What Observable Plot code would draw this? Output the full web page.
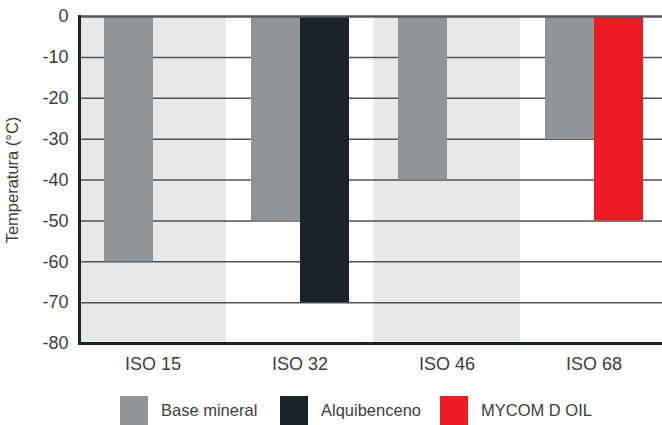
<!DOCTYPE html>
<html>
<head>
<meta charset="utf-8">
<script src="https://cdn.jsdelivr.net/npm/d3@7"></script>
<script src="https://cdn.jsdelivr.net/npm/@observablehq/plot@0.6"></script>
<style>
  html, body { margin: 0; padding: 0; background: #fff; }
  body { width: 662px; height: 425px; overflow: hidden; font-family: "Liberation Sans", Arial, sans-serif; }
  #chart { width: 662px; overflow: hidden; height: 390px; }
  #legend { display: flex; padding-left: 120px; margin-top: 6px; }
  .item { display: flex; align-items: center; width: 160px; font-size: 16.5px; color: #3d3d3d; }
  .sw { width: 28px; height: 29px; margin-right: 13px; flex: none; }
</style>
</head>
<body>
<div id="chart"></div>
<div id="legend"></div>
<script>
const categories = ["ISO 15", "ISO 32", "ISO 46", "ISO 68"];
const seriesNames = ["Base mineral", "Alquibenceno", "MYCOM D OIL"];
const seriesColors = ["#909497", "#18232a", "#ec1c24"];
const baseMineral = [-60, -50, -40, -30];
const alquibenceno = [null, -70, null, null];
const mycomDOil = [null, null, null, -50];
const yTicks = [0, -10, -20, -30, -40, -50, -60, -70, -80];
const shadedCategories = ["ISO 15", "ISO 46"];

const table = [];
categories.forEach((c, i) => {
  if (baseMineral[i] != null) table.push({iso: c, slot: "1", series: seriesNames[0], value: baseMineral[i]});
  if (alquibenceno[i] != null) table.push({iso: c, slot: "2", series: seriesNames[1], value: alquibenceno[i]});
  if (mycomDOil[i] != null) table.push({iso: c, slot: "2", series: seriesNames[2], value: mycomDOil[i]});
});
const bands = shadedCategories.map(c => ({iso: c}));
const gridTicks = yTicks.filter(t => t !== 0 && t !== -80);

const chart = Plot.plot({
  width: 667,
  height: 390,
  marginLeft: 79,
  marginRight: 0,
  marginTop: 16,
  marginBottom: 47,
  style: {fontFamily: "'Liberation Sans', Arial, sans-serif", fontSize: "16px", color: "#3d3d3d", background: "#fff", maxWidth: "none"},
  fx: {domain: categories, padding: 0, label: null},
  x: {domain: ["1", "2"], paddingInner: 0, paddingOuter: 0.485, axis: null},
  y: {domain: [-80, 0]},
  color: {domain: seriesNames, range: seriesColors},
  marks: [
    Plot.barY(bands, {fx: "iso", y1: -80, y2: 0, fill: "#e8e8e8"}),
    Plot.ruleY(gridTicks, {stroke: "#4e5357", strokeWidth: 1.5}),
    Plot.barY(table, {fx: "iso", x: "slot", y: "value", fill: "series"}),
    Plot.ruleY([0], {stroke: "#52575b", strokeWidth: 2.5}),
    Plot.ruleY([-80], {stroke: "#1a2328", strokeWidth: 3}),
    Plot.frame({anchor: "left", facetAnchor: "left", stroke: "#1a2328", strokeWidth: 3}),
    Plot.axisY({ticks: yTicks, tickSize: 0, tickPadding: 11, tickFormat: d => String(d), fontSize: 18, label: null}),
    Plot.axisY({ticks: [], label: "Temperatura (°C)", labelAnchor: "center", labelArrow: "none", labelOffset: 73, fontSize: 16.5}),
    Plot.axisFx({anchor: "bottom", tickSize: 0, tickPadding: 14, label: null, fontSize: 18})
  ]
});
document.getElementById("chart").appendChild(chart);

const legend = document.getElementById("legend");
seriesNames.forEach((name, i) => {
  const item = document.createElement("div");
  item.className = "item";
  const sw = document.createElement("div");
  sw.className = "sw";
  sw.style.background = seriesColors[i];
  const label = document.createElement("span");
  label.textContent = name;
  item.appendChild(sw);
  item.appendChild(label);
  legend.appendChild(item);
});
</script>
</body>
</html>
